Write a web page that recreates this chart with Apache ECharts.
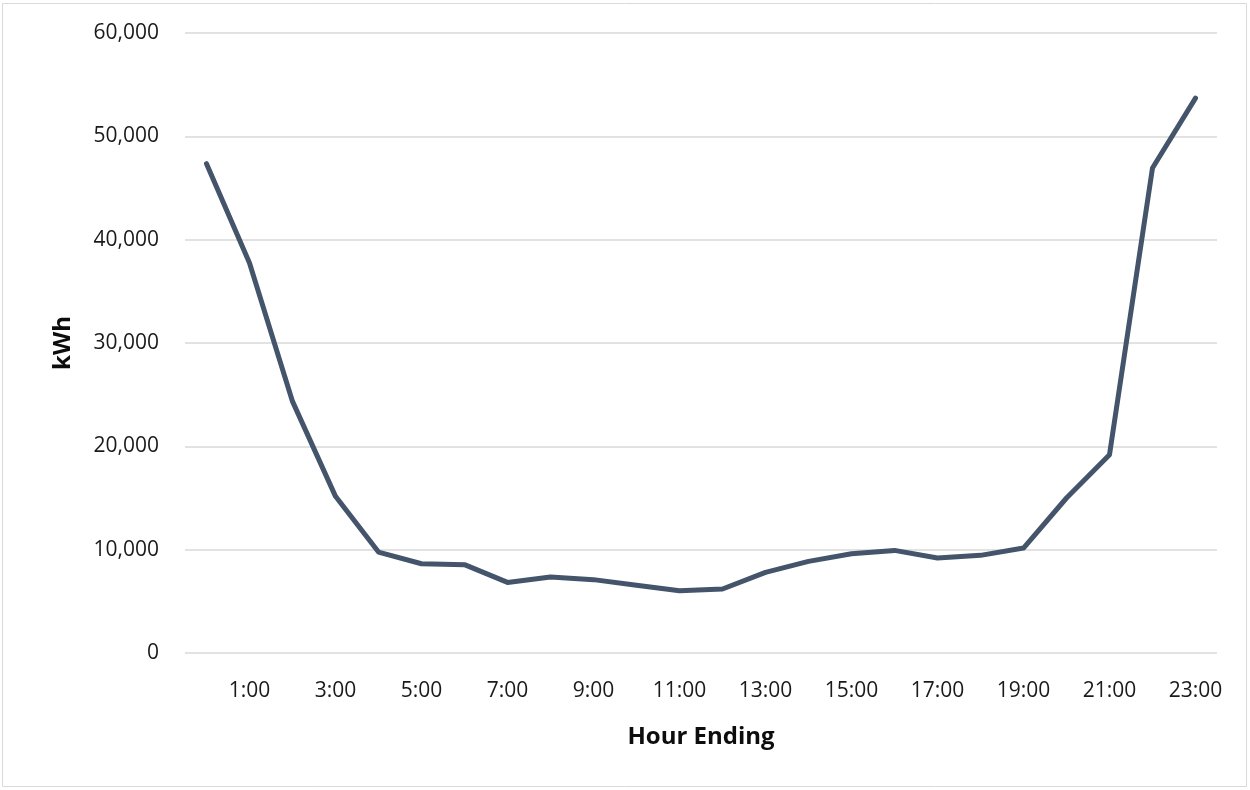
<!DOCTYPE html>
<html>
<head>
<meta charset="utf-8">
<script src="https://cdn.jsdelivr.net/npm/echarts@6/dist/echarts.min.js"></script>
<style>
html,body{margin:0;padding:0;background:#fff;}
#chart{width:1250px;height:790px;}
</style>
</head>
<body>
<div id="chart"></div>
<script>
const hours = ['0:00','1:00','2:00','3:00','4:00','5:00','6:00','7:00','8:00','9:00','10:00','11:00',
  '12:00','13:00','14:00','15:00','16:00','17:00','18:00','19:00','20:00','21:00','22:00','23:00'];
const kwh = [47350, 37740, 24350, 15160, 9770, 8640, 8550, 6830, 7350, 7100, 6550, 6030,
  6190, 7800, 8870, 9610, 9930, 9190, 9450, 10160, 15000, 19190, 46940, 53700];
const yTicks = { min: 0, max: 60000, interval: 10000 };
const xTitle = 'Hour Ending';
const yTitle = 'kWh';

const font = '"Open Sans", "Noto Sans", sans-serif';
const chart = echarts.init(document.getElementById('chart'), null, { renderer: 'canvas' });
chart.setOption({
  backgroundColor: '#fff',
  animation: false,
  graphic: [{
    type: 'rect', shape: { x: 2.5, y: 3.5, width: 1244, height: 783 },
    style: { fill: 'none', stroke: '#d9d9d9', lineWidth: 1 }, silent: true
  }],
  grid: { left: 185, right: 33, top: 33, bottom: 137, containLabel: false },
  xAxis: {
    type: 'category', data: hours, boundaryGap: true,
    axisLine: { show: false }, axisTick: { show: false },
    axisLabel: {
      interval: (i) => i % 2 === 1,
      margin: 28, fontSize: 21, color: '#1a1a1a', fontFamily: font
    },
    name: xTitle, nameLocation: 'middle', nameGap: 72,
    nameTextStyle: { fontSize: 24, fontWeight: 'bold', color: '#0d0d0d', fontFamily: font }
  },
  yAxis: {
    type: 'value', min: yTicks.min, max: yTicks.max, interval: yTicks.interval,
    axisLine: { show: false }, axisTick: { show: false },
    splitLine: { lineStyle: { color: '#d9d9d9', width: 1.5 } },
    axisLabel: {
      margin: 26, fontSize: 21, color: '#1a1a1a', fontFamily: font,
      formatter: (v) => v.toLocaleString('en-US')
    },
    name: yTitle, nameLocation: 'middle', nameGap: 110, nameRotate: 90,
    nameTextStyle: { fontSize: 24, fontWeight: 'bold', color: '#0d0d0d', fontFamily: font }
  },
  series: [{
    type: 'line', data: kwh, symbol: 'none',
    lineStyle: { color: '#44546a', width: 5, cap: 'round', join: 'round' }
  }]
});
</script>
</body>
</html>
